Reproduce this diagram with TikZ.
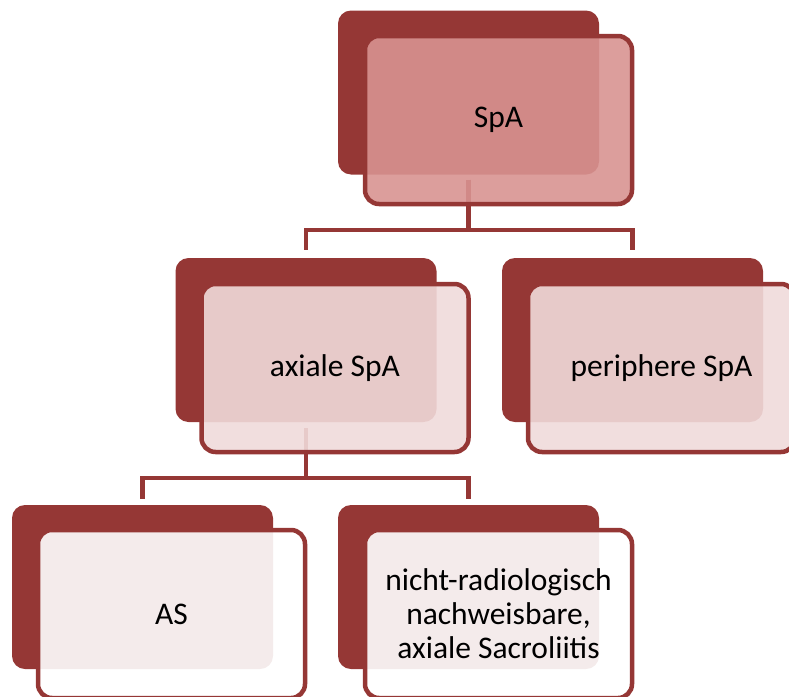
\documentclass[tikz,border=0pt]{standalone}
\usepackage{fontspec}
\setmainfont{Carlito}
\definecolor{dred}{RGB}{149,55,53}
\definecolor{lonefill}{RGB}{216,147,145}
\definecolor{ltwofill}{RGB}{240,218,218}
\begin{document}
\begin{tikzpicture}[x=1pt,y=-1pt,
  backbox/.style={draw=none, fill=dred, rounded corners=13pt, minimum width=261pt, minimum height=164pt, inner sep=0pt},
  frontbox/.style={draw=dred, line width=4.5pt, rounded corners=14pt, minimum width=267pt, minimum height=168pt, inner sep=0pt, fill opacity=0.9, text opacity=1, align=center, font=\fontsize{31.5}{34}\selectfont},
  conn/.style={draw=dred, line width=4.5pt}]
\useasboundingbox (0,0) rectangle (789,696);
\clip (0,0) rectangle (789,696);
% back shapes
\node[backbox] (b1) at (468.5,92.5) {};
\node[backbox] (b2) at (306,340) {};
\node[backbox] (b3) at (632.5,340) {};
\node[backbox] (b4) at (142.5,587) {};
\node[backbox] (b5) at (468.5,587) {};
% connectors
\coordinate (j1) at (468.5,230);
\draw[conn] ([yshift=-5pt]b1.south) -- (j1);
\draw[conn] ([yshift=8pt]b2.north) |- (j1) -| ([yshift=8pt]b3.north);
\coordinate (j2) at (306,478);
\draw[conn] ([yshift=-6pt]b2.south) -- (j2);
\draw[conn] ([yshift=6pt]b4.north) |- (j2) -| ([yshift=6pt]b5.north);
% front shapes
\node[frontbox, fill=lonefill] (f1) at (498.5,120) {SpA};
\node[frontbox, fill=ltwofill] (f2) at (335,368) {axiale SpA};
\node[frontbox, fill=ltwofill] (f3) at (661.5,368) {periphere SpA};
\node[frontbox, fill=white] (f4) at (171.5,614) {AS};
\node[frontbox, fill=white] (f5) at (498.5,614) {nicht-radiologisch\\nachweisbare,\\axiale Sacroliitis};
\end{tikzpicture}
\end{document}
